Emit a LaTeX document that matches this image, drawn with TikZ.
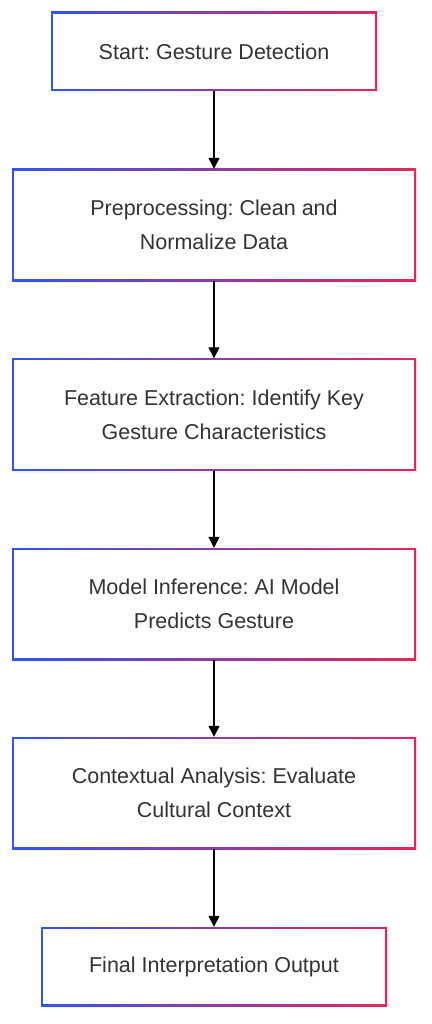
\documentclass[tikz,border=0pt]{standalone}
\usepackage{fontspec}
\setmainfont{Liberation Sans}
\frenchspacing
\usetikzlibrary{arrows.meta,shadows}
\definecolor{gblue}{RGB}{50,85,235}
\definecolor{gred}{RGB}{228,38,90}
\definecolor{txt}{RGB}{51,51,51}
\tikzset{
  gbox/.style={minimum width=#1, inner sep=0pt, align=center, text=txt,
    font=\fontsize{21.5pt}{34pt}\selectfont,
    drop shadow={opacity=0.10, shadow xshift=1.5pt, shadow yshift=-2pt},
    path picture={
      \shade[left color=gblue, right color=gred]
        (path picture bounding box.south west) rectangle (path picture bounding box.north east);
      \fill[white] ([shift={(1.6pt,1.6pt)}]path picture bounding box.south west)
        rectangle ([shift={(-1.6pt,-1.6pt)}]path picture bounding box.north east);
    }},
  flow/.style={draw=black, line width=1.3pt, -{Triangle[length=11pt,width=11pt]}}
}
\begin{document}
\begin{tikzpicture}[x=1pt,y=1pt]
\useasboundingbox (0,0) rectangle (431,-1024);
\node[gbox=326pt, minimum height=79pt] (n1) at (214,-51.5) {Start: Gesture Detection};
\node[gbox=404pt, minimum height=112pt] (n2) at (214,-225) {Preprocessing: Clean and\\Normalize Data};
\node[gbox=404pt, minimum height=112pt] (n3) at (214,-414.5) {Feature Extraction: Identify Key\\Gesture Characteristics};
\node[gbox=404pt, minimum height=112pt] (n4) at (214,-604) {Model Inference: AI Model\\Predicts Gesture};
\node[gbox=404pt, minimum height=112pt] (n5) at (214,-793) {Contextual Analysis: Evaluate\\Cultural Context};
\node[gbox=346pt, minimum height=79pt] (n6) at (214,-966.5) {Final Interpretation Output};
\draw[flow] (n1.south) -- (n2.north);
\draw[flow] (n2.south) -- (n3.north);
\draw[flow] (n3.south) -- (n4.north);
\draw[flow] (n4.south) -- (n5.north);
\draw[flow] (n5.south) -- (n6.north);
\end{tikzpicture}
\end{document}
